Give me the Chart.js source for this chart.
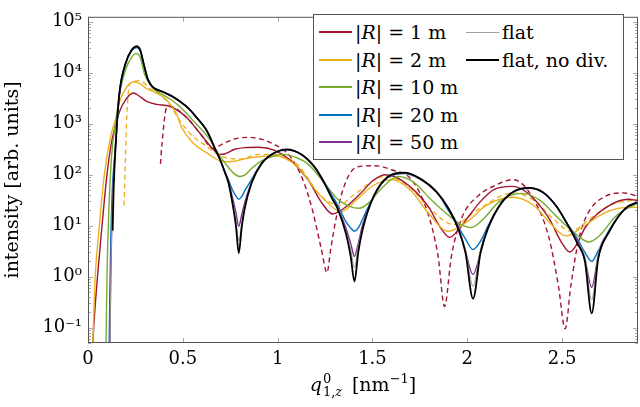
<!DOCTYPE html>
<html>
<head>
<meta charset="utf-8">
<script src="https://cdn.jsdelivr.net/npm/chart.js@4.4.1/dist/chart.umd.min.js"></script>
<style>
  html, body { margin: 0; padding: 0; background: #fff; }
  #wrap { position: relative; width: 640px; height: 407px; font-family: "DejaVu Serif", serif; color: #000; }
  #chart { position: absolute; left: 0; top: 0; }
  .legend { position: absolute; left: 313px; top: 14px; width: 309px; height: 144px; border: 1px solid #555; background: #fff; font-size: 19px; }
  .row { position: absolute; height: 24px; line-height: 24px; white-space: nowrap; }
  .sw { position: absolute; left: 0; top: 11px; width: 33px; height: 2px; }
  .lbl { position: absolute; left: 36px; top: 0; }
  .xtitle { position: absolute; left: 88px; width: 550px; top: 371px; height: 30px; line-height: 26px; text-align: center; font-size: 19px; white-space: nowrap; }
  .ss { display: inline-block; position: relative; width: 24px; height: 1px; font-size: 13px; }
  .ss .up { position: absolute; left: 1px; bottom: 5px; line-height: 14px; }
  .ss .dn { position: absolute; left: 1px; top: -5px; line-height: 14px; }
  .sp { font-size: 13px; position: relative; top: -8px; }
</style>
</head>
<body>
<div id="wrap">
  <canvas id="chart" width="640" height="407"></canvas>
  <div class="legend">
    <div class="row" style="left:5px; top:5px"><span class="sw" style="background:#A2142F"></span><span class="lbl">|<i>R</i>| = 1 m</span></div>
    <div class="row" style="left:5px; top:33px"><span class="sw" style="background:#EDB120"></span><span class="lbl">|<i>R</i>| = 2 m</span></div>
    <div class="row" style="left:5px; top:60px"><span class="sw" style="background:#77AC30"></span><span class="lbl">|<i>R</i>| = 10 m</span></div>
    <div class="row" style="left:5px; top:88px"><span class="sw" style="background:#0072BD"></span><span class="lbl">|<i>R</i>| = 20 m</span></div>
    <div class="row" style="left:5px; top:115px"><span class="sw" style="background:#7E2F8E"></span><span class="lbl">|<i>R</i>| = 50 m</span></div>
    <div class="row" style="left:152px; top:5px"><span class="sw" style="background:#a0a0a0; height:1px; top:12px"></span><span class="lbl">flat</span></div>
    <div class="row" style="left:152px; top:33px"><span class="sw" style="background:#000"></span><span class="lbl">flat, no div.</span></div>
  </div>
  <div class="xtitle"><i>q</i><span class="ss"><span class="up">0</span><span class="dn">1,<i>z</i></span></span> [nm<span class="sp">−1</span>]</div>
</div>
<script>
// q grid shared by the flat-like curves
const qFlat = [0.11, 0.115, 0.12, 0.127, 0.13, 0.135, 0.147, 0.165, 0.2, 0.23, 0.258, 0.275, 0.29, 0.3, 0.315, 0.34,
  0.396, 0.446, 0.484, 0.53, 0.572, 0.62, 0.642, 0.67, 0.695, 0.72, 0.74, 0.76, 0.78, 0.795, 0.81, 0.826, 0.862,
  0.914, 0.984, 1.046, 1.125, 1.195, 1.247, 1.285, 1.315, 1.36, 1.385, 1.405, 1.425, 1.45, 1.51, 1.58, 1.67, 1.76,
  1.84, 1.9, 1.95, 1.99, 2.03, 2.07, 2.11, 2.18, 2.25, 2.326, 2.4, 2.47, 2.52, 2.58, 2.62, 2.656, 2.69, 2.75, 2.835, 2.9];

const flatNoDiv = [null, null, null, null, 8, 50, 450, 3800, 16000, 28000, 33000, 28000, 17000, 12000, 7500, 5300,
  4200, 3400, 2750, 2000, 1330, 800, 560, 320, 203, 115, 70, 30, 10, 2.9, 9, 21.5, 68,
  163, 270, 315, 250, 141, 68, 35, 22, 7, 2.5, 0.8, 3, 9, 40, 90, 110, 80,
  45, 22, 9, 3, 0.37, 3, 9, 28, 48, 55, 45, 24, 12, 4.5, 2, 0.19, 2.2, 7.8, 22, 29];

const flat = [null, 0.02, 0.8, 15, 35, 90, 450, 3800, 16000, 28000, 33000, 28000, 17000, 12000, 7500, 5300,
  4200, 3400, 2750, 2000, 1330, 800, 560, 320, 203, 115, 70, 30, 12, 5, 11, 21.5, 68,
  163, 270, 315, 250, 141, 68, 35, 22, 7.5, 3.5, 1.5, 4, 9.5, 40, 90, 110, 80,
  45, 22, 9, 3.5, 0.65, 3.5, 9, 28, 48, 55, 45, 24, 12, 4.8, 2.5, 0.35, 2.8, 7.8, 22, 29];

const r50 = [null, 0.03, 1, 20, 35, 90, 450, 3800, 16000, 28000, 33000, 28000, 17000, 12000, 7500, 5300,
  4200, 3400, 2750, 2000, 1330, 800, 560, 320, 203, 118, 75, 38, 18, 9.7, 16, 28, 70,
  163, 270, 310, 250, 141, 68, 36, 23, 9, 4.5, 2.5, 4.5, 11, 40, 90, 108, 80,
  45, 22, 10, 3.2, 1.1, 3, 9.5, 28, 48, 55, 45, 24, 12, 5, 2.2, 0.62, 2.5, 8, 22, 29];

const r20 = [0.02, 0.4, 5, 40, 70, 130, 450, 3600, 15500, 27000, 31000, 27000, 17000, 12000, 7500, 5300,
  4200, 3400, 2750, 2000, 1330, 800, 560, 320, 203, 120, 80, 52, 38, 33, 37, 48, 80,
  165, 270, 305, 250, 141, 70, 40, 26, 12, 9, 7.8, 9, 14, 40, 88, 105, 78,
  45, 20, 10, 5.5, 3.4, 5, 10, 28, 47, 54, 44, 24, 12, 5.5, 3, 2, 3.2, 8.5, 22, 29];

const qGreen = [0.09, 0.095, 0.1, 0.11, 0.125, 0.147, 0.17, 0.2, 0.23, 0.253, 0.275, 0.3, 0.344, 0.4, 0.45, 0.5,
  0.554, 0.6, 0.642, 0.695, 0.74, 0.77, 0.8, 0.83, 0.862, 0.92, 0.984, 1.03, 1.1, 1.16, 1.247, 1.317, 1.38, 1.43,
  1.48, 1.55, 1.635, 1.72, 1.8, 1.88, 1.96, 2.02, 2.08, 2.17, 2.29, 2.38, 2.48, 2.58, 2.64, 2.7, 2.78, 2.9];
const r10 = [0.02, 0.05, 1, 20, 250, 1100, 4500, 12000, 20000, 24000, 20000, 9000, 4900, 3600, 2750, 1900,
  1150, 760, 490, 235, 140, 105, 92, 100, 132, 190, 235, 250, 215, 163, 68, 33, 24, 22,
  28, 55, 92, 70, 35, 18.6, 11, 9.2, 13, 30, 43, 32, 14, 6.5, 4.8, 6.5, 15, 28];

const qR1 = [0.02, 0.03, 0.05, 0.074, 0.1, 0.125, 0.147, 0.168, 0.2, 0.238, 0.26, 0.309, 0.36, 0.43, 0.52, 0.59,
  0.66, 0.695, 0.72, 0.774, 0.826, 0.9, 0.984, 1.07, 1.16, 1.23, 1.29, 1.37, 1.44, 1.5, 1.565, 1.66, 1.79, 1.86,
  1.907, 1.95, 2.0, 2.07, 2.14, 2.24, 2.33, 2.43, 2.5, 2.54, 2.58, 2.62, 2.75, 2.85, 2.9];
const r1 = [0.02, 0.1, 1, 10, 100, 450, 1000, 1800, 3000, 4000, 3700, 2750, 2400, 2200, 1330, 650,
  315, 250, 255, 315, 340, 345, 300, 188, 80, 29, 17, 25, 44, 75, 100, 75, 25, 9,
  5.9, 8, 14, 30, 51, 59, 40, 14, 4.5, 3.05, 4.5, 9, 25, 33, 31];

const qR1d = [0.382, 0.39, 0.414, 0.43, 0.52, 0.59, 0.66, 0.72, 0.78, 0.844, 0.984, 1.07, 1.14, 1.186, 1.23, 1.26,
  1.28, 1.31, 1.35, 1.417, 1.51, 1.6, 1.705, 1.79, 1.846, 1.88, 1.916, 1.97, 2.056, 2.14, 2.24, 2.34, 2.43, 2.48,
  2.516, 2.546, 2.59, 2.64, 2.73, 2.82, 2.9];
const r1d = [163, 400, 2050, 2200, 1330, 650, 330, 420, 510, 540, 390, 218, 68, 18.6, 3.5, 1.2,
  3.5, 15, 59, 141, 150, 125, 80, 18.6, 2.5, 0.26, 2.5, 14, 38, 60, 80, 38, 5.9, 0.67,
  0.095, 0.67, 5.9, 18.6, 38, 44, 38];

const qR2 = [0.02, 0.025, 0.038, 0.06, 0.086, 0.121, 0.147, 0.165, 0.2, 0.238, 0.27, 0.309, 0.36, 0.414, 0.467,
  0.493, 0.554, 0.625, 0.695, 0.747, 0.862, 0.984, 1.107, 1.212, 1.3, 1.335, 1.42, 1.5, 1.6, 1.7, 1.79, 1.9, 2.0,
  2.1, 2.24, 2.35, 2.43, 2.52, 2.6, 2.7, 2.8, 2.9];
const r2 = [0.02, 0.05, 1, 10, 100, 600, 1300, 2600, 5000, 6600, 6200, 4900, 4000, 2950, 1540,
  860, 420, 270, 188, 180, 218, 235, 141, 44, 21.5, 19, 33, 60, 80, 50, 18.6, 7.8, 12,
  25, 36, 25, 12, 6.3, 9, 16, 22, 23];

const qR2d = [0.19, 0.197, 0.205, 0.221, 0.274, 0.326, 0.379, 0.43, 0.484, 0.554, 0.625, 0.695, 0.81, 0.896, 0.984,
  1.1, 1.23, 1.326, 1.4, 1.565, 1.7, 1.8, 1.93, 2.05, 2.24, 2.36, 2.45, 2.546, 2.65, 2.75, 2.9];
const r2d = [25, 200, 1500, 6100, 7000, 4900, 3700, 2400, 1150, 560, 360, 235, 203, 250, 250,
  163, 38, 25, 40, 92, 55, 22, 10.5, 20, 44, 30, 14, 7.8, 14, 25, 33];

const xTicks = [0, 0.5, 1, 1.5, 2, 2.5];
const yTicks = [0.1, 1, 10, 100, 1000, 10000, 100000];
const yTickLabels = ['10⁻¹', '10⁰', '10¹', '10²', '10³', '10⁴', '10⁵'];

function pts(xs, ys) {
  return xs.map((x, i) => ({ x: x, y: ys[i] })).filter(p => p.y !== null);
}

function line(label, xs, ys, color, width, dash) {
  return {
    label: label,
    data: pts(xs, ys),
    borderColor: color,
    borderWidth: width,
    borderDash: dash || [],
    pointRadius: 0,
    fill: false,
    cubicInterpolationMode: 'monotone'
  };
}

// frame plus inward ticks like the pgfplots box
const frameTicks = {
  id: 'frameTicks',
  afterDraw(chart) {
    const ctx = chart.ctx;
    const a = chart.chartArea;
    const xs = chart.scales.x, ys = chart.scales.y;
    ctx.save();
    ctx.strokeStyle = '#a8a8a8';
    ctx.lineWidth = 1;
    ctx.beginPath();
    xTicks.forEach(v => {
      const px = Math.round(xs.getPixelForValue(v)) + 0.5;
      ctx.moveTo(px, a.bottom); ctx.lineTo(px, a.bottom - 5);
      ctx.moveTo(px, a.top); ctx.lineTo(px, a.top + 5);
    });
    for (let e = -2; e <= 5; e++) {
      for (let m = 1; m <= 9; m++) {
        const v = m * Math.pow(10, e);
        if (v < ys.min || v > ys.max) continue;
        const py = Math.round(ys.getPixelForValue(v)) + 0.5;
        const len = m === 1 ? 5 : 3;
        ctx.moveTo(a.left, py); ctx.lineTo(a.left + len, py);
        ctx.moveTo(a.right, py); ctx.lineTo(a.right - len, py);
      }
    }
    ctx.stroke();
    ctx.strokeStyle = '#555';
    ctx.strokeRect(a.left + 0.5, a.top + 0.5, a.right - a.left - 1, a.bottom - a.top - 1);
    ctx.restore();
  }
};

new Chart(document.getElementById('chart'), {
  type: 'line',
  data: {
    datasets: [
      line('flat, no div.', qFlat, flatNoDiv, '#000000', 1.8),
      line('flat', qFlat, flat, '#9a9a9a', 1),
      line('|R| = 50 m', qFlat, r50, '#7E2F8E', 1.4),
      line('|R| = 20 m', qFlat, r20, '#0072BD', 1.4),
      line('|R| = 10 m', qGreen, r10, '#77AC30', 1.4),
      line('|R| = 2 m', qR2, r2, '#EDB120', 1.4),
      line('|R| = 1 m', qR1, r1, '#A2142F', 1.4),
      line('|R| = 2 m dashed', qR2d, r2d, '#EDB120', 1.4, [5, 3.5]),
      line('|R| = 1 m dashed', qR1d, r1d, '#A2142F', 1.4, [5, 3.5])
    ]
  },
  options: {
    responsive: false,
    animation: false,
    devicePixelRatio: 1,
    layout: { padding: { left: 0, right: 2, top: 4, bottom: 0 } },
    plugins: { legend: { display: false }, tooltip: { enabled: false } },
    scales: {
      x: {
        type: 'linear',
        min: 0,
        max: 2.9,
        afterBuildTicks: (s) => { s.ticks = xTicks.map(v => ({ value: v })); },
        afterFit: (s) => { s.height = 64; },
        grid: { display: false, drawTicks: false },
        border: { display: false },
        ticks: {
          autoSkip: false,
          maxRotation: 0,
          padding: 6,
          color: '#000',
          font: { family: 'DejaVu Serif', size: 18 },
          callback: (v) => String(v)
        }
      },
      y: {
        type: 'logarithmic',
        min: 0.05,
        max: 125000,
        afterBuildTicks: (s) => { s.ticks = yTicks.map(v => ({ value: v })); },
        afterFit: (s) => { s.width = 88; },
        grid: { display: false, drawTicks: false },
        border: { display: false },
        title: {
          display: true,
          text: 'intensity [arb. units]',
          color: '#000',
          padding: { top: 2, bottom: 0 },
          font: { family: 'DejaVu Serif', size: 19 }
        },
        ticks: {
          autoSkip: false,
          padding: 6,
          color: '#000',
          font: { family: 'DejaVu Serif', size: 18 },
          callback: (v, i) => yTickLabels[i]
        }
      }
    }
  },
  plugins: [frameTicks]
});
</script>
</body>
</html>
